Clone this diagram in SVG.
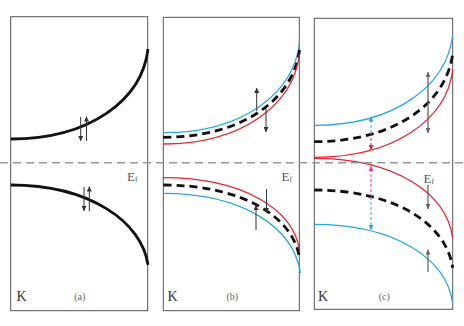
<svg xmlns="http://www.w3.org/2000/svg" width="464" height="326" viewBox="0 0 464 326">
<style>
.box{fill:#fff;stroke:#555;stroke-width:1}
.band{fill:none;stroke:#111;stroke-width:2.8}
.mean{fill:none;stroke:#111;stroke-width:2.8;stroke-dasharray:8 5}
.up{fill:none;stroke:#29a8e0;stroke-width:1.3}
.dn{fill:none;stroke:#e8242c;stroke-width:1.3}
.ar{stroke:#333;stroke-width:1;marker-end:url(#ah)}
.arg{stroke:#666;stroke-width:1.3;marker-end:url(#ahg)}
.lbl{font-family:"Liberation Serif",serif;fill:#333}
.k{font-size:14px}
.sm{font-size:10px;fill:#666}
.ef{font-size:13px;fill:#555}
</style>
<defs>
<marker id="ah" viewBox="0 0 10 10" refX="10" refY="5" markerWidth="6" markerHeight="5" markerUnits="userSpaceOnUse" orient="auto"><path d="M0,0 L10,5 L0,10 z" fill="#333"/></marker>
<marker id="ahg" viewBox="0 0 10 10" refX="10" refY="5" markerWidth="6" markerHeight="5" markerUnits="userSpaceOnUse" orient="auto"><path d="M0,0 L10,5 L0,10 z" fill="#666"/></marker>
<marker id="ahc" viewBox="0 0 10 10" refX="10" refY="5" markerWidth="5" markerHeight="5" markerUnits="userSpaceOnUse" orient="auto"><path d="M0,0 L10,5 L0,10 z" fill="#29a8e0"/></marker>
<marker id="ahr" viewBox="0 0 10 10" refX="10" refY="5" markerWidth="5" markerHeight="5" markerUnits="userSpaceOnUse" orient="auto"><path d="M0,0 L10,5 L0,10 z" fill="#e8242c"/></marker>
<marker id="ahm" viewBox="0 0 10 10" refX="10" refY="5" markerWidth="5" markerHeight="5" markerUnits="userSpaceOnUse" orient="auto"><path d="M0,0 L10,5 L0,10 z" fill="#e8359c"/></marker>
</defs>
<rect width="464" height="326" fill="#fff"/>

<g id="panel-a">
<rect class="box" x="10.7" y="16.7" width="137" height="294"/>
<path class="band" d="M10.7,139 C90,139 142,100 148,49"/>
<path class="band" d="M10.7,185 C90,185 142,222 148,265"/>
<text class="lbl k" x="16.5" y="301">K</text>
<text class="lbl sm" x="79.7" y="299.5" text-anchor="middle">(a)</text>
<text class="lbl ef" x="127" y="180.5">E<tspan font-size="7.5" dy="1">f</tspan></text>
</g>

<g id="panel-b">
<rect class="box" x="163.3" y="17.3" width="136" height="293.4"/>
<path class="up" d="M163.3,132.7 C242.3,132.7 293.3,94 299.5,43"/>
<path class="mean" d="M163.3,137.3 C242.3,137.3 293.3,99.5 299.5,50"/>
<path class="dn" d="M163.3,144 C242.3,144 293.3,104.7 299.5,54"/>
<path class="dn" d="M163.3,177.7 C242.3,177.7 293.3,209 299.5,250"/>
<path class="mean" d="M163.3,185 C242.3,185 293.3,216.6 299.5,258"/>
<path class="up" d="M163.3,193.3 C242.3,193.3 293.3,227 300.5,273"/>
<text class="lbl k" x="167.5" y="301">K</text>
<text class="lbl sm" x="232.3" y="299.5" text-anchor="middle">(b)</text>
<text class="lbl ef" x="281.5" y="180.5">E<tspan font-size="7.5" dy="1">f</tspan></text>
</g>

<g id="panel-c">
<rect class="box" x="314.3" y="18.3" width="138.4" height="291"/>
<path class="up" d="M314.3,125.3 C394.6,125.3 446.6,86.2 452.7,35"/>
<path class="mean" d="M314.3,141.7 C394.6,141.7 446.6,103.4 452.7,53.3"/>
<path class="dn" d="M314.3,157.3 C394.6,157.3 446.6,119.5 452.7,70"/>
<path class="dn" d="M314.3,158.3 C394.6,158.3 446.6,192.9 452.7,238.3"/>
<path class="mean" d="M314.3,190 C394.6,190 446.6,223.8 452.7,268"/>
<path class="up" d="M314.3,224.3 C394.6,224.3 446.6,258.5 452.7,303.3"/>
<text class="lbl k" x="318" y="300.5">K</text>
<text class="lbl sm" x="384.3" y="299.5" text-anchor="middle">(c)</text>
<text class="lbl ef" x="423.5" y="182.5">E<tspan font-size="7.5" dy="1">f</tspan></text>
</g>

<line id="fermi-level" x1="0" y1="162.7" x2="464" y2="162.7" stroke="#999" stroke-width="1.5" stroke-dasharray="8 5"/>

<g id="connectors">
<line class="ar" x1="80.7" y1="117" x2="80.7" y2="141"/>
<line class="ar" x1="86.5" y1="141" x2="86.5" y2="116.5"/>
<line class="ar" x1="84" y1="187" x2="84" y2="211"/>
<line class="ar" x1="89.3" y1="211" x2="89.3" y2="186.5"/>

<line class="ar" x1="256.7" y1="111" x2="256.7" y2="88"/>
<line class="ar" x1="266" y1="108" x2="266" y2="132"/>
<line class="ar" x1="266.5" y1="189" x2="266.5" y2="213"/>
<line class="ar" x1="256" y1="230" x2="256" y2="205"/>

<line class="arg" x1="428" y1="102" x2="428" y2="72"/>
<line class="arg" x1="428" y1="102" x2="428" y2="133"/>
<line class="arg" x1="428" y1="185" x2="428" y2="209"/>
<line class="arg" x1="428" y1="272" x2="428" y2="249.5"/>

<line x1="371" y1="133" x2="371" y2="116.5" stroke="#29a8e0" stroke-width="1" stroke-dasharray="3 2" marker-end="url(#ahc)"/>
<line x1="371" y1="133" x2="371" y2="150" stroke="#e8242c" stroke-width="1" stroke-dasharray="3 2" marker-end="url(#ahr)"/>
<line x1="371" y1="197" x2="371" y2="166" stroke="#e8359c" stroke-width="1" stroke-dasharray="3 2" marker-end="url(#ahm)"/>
<line x1="371" y1="197" x2="371" y2="230" stroke="#29a8e0" stroke-width="1" stroke-dasharray="3 2" marker-end="url(#ahc)"/>
</g>
</svg>
